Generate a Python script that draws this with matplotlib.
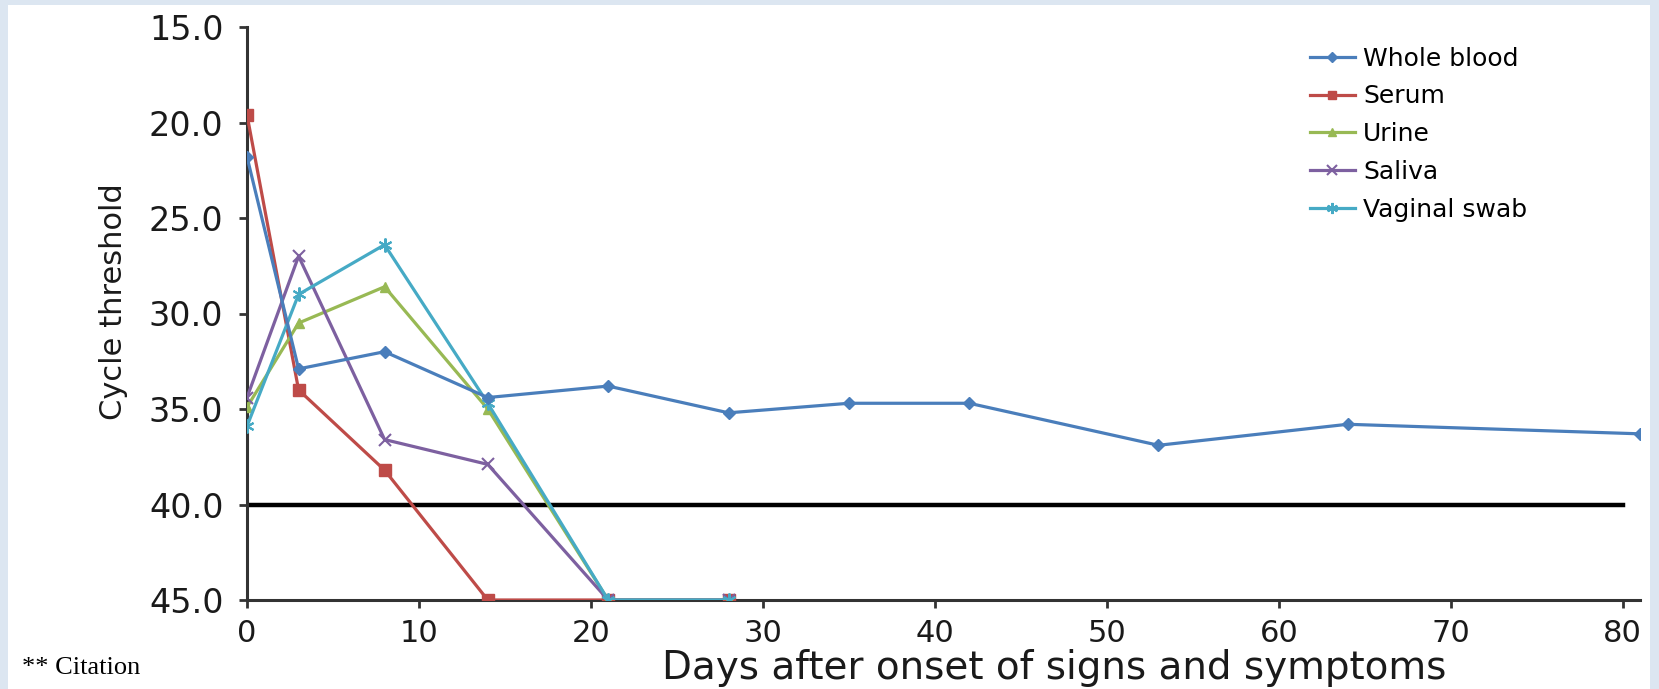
import matplotlib.pyplot as plt
from matplotlib.patches import Rectangle

# Data
days_blood = [0, 3, 8, 14, 21, 28, 35, 42, 53, 64, 81]
ct_blood = [21.8, 32.9, 32.0, 34.4, 33.8, 35.2, 34.7, 34.7, 36.9, 35.8, 36.3]

days_serum = [0, 3, 8, 14, 21, 28]
ct_serum = [19.6, 34.0, 38.2, 45.0, 45.0, 45.0]

days_urine = [0, 3, 8, 14, 21, 28]
ct_urine = [34.9, 30.5, 28.6, 35.0, 45.0, 45.0]

days_saliva = [0, 3, 8, 14, 21, 28]
ct_saliva = [34.4, 27.0, 36.6, 37.9, 45.0, 45.0]

days_vaginal = [0, 3, 8, 14, 21, 28]
ct_vaginal = [35.9, 29.0, 26.4, 34.7, 45.0, 45.0]

cutoff = 40.0
yticks = [15, 20, 25, 30, 35, 40, 45]
xticks = [0, 10, 20, 30, 40, 50, 60, 70, 80]

fig = plt.figure(figsize=(16.59, 6.89), dpi=100, facecolor='#dce6f1')
fig.patches.append(Rectangle((8 / 1659, 0), 1642 / 1659, 1 - 5 / 689,
                             transform=fig.transFigure, facecolor='white',
                             edgecolor='none', zorder=-5))

ax = fig.add_axes([247 / 1659, 1 - 600 / 689, (1640 - 247) / 1659, 573 / 689])
ax.set_facecolor('none')
ax.set_zorder(2)

lw = 2.3
ax.plot([0, 80], [cutoff, cutoff], color='black', lw=3.2, zorder=1)
ax.plot(days_blood, ct_blood, color='#4a7ebb', lw=lw, marker='D', ms=6, label='Whole blood', zorder=7)
ax.plot(days_serum, ct_serum, color='#be4b48', lw=lw, marker='s', ms=8, label='Serum', zorder=3)
ax.plot(days_urine, ct_urine, color='#98b954', lw=lw, marker='^', ms=7, label='Urine', zorder=4)
ax.plot(days_saliva, ct_saliva, color='#7d60a0', lw=lw, marker='x', ms=9, mew=1.5, label='Saliva', zorder=5)
ax.plot(days_vaginal, ct_vaginal, color='#46aac5', lw=lw, marker=(6, 2, 0), ms=10, mew=1.5, label='Vaginal swab', zorder=6)

ax.set_xlim(0, 81)
ax.set_ylim(45, 15)
ax.set_yticks(yticks)
ax.set_yticklabels([f'{v:.1f}' for v in yticks])
ax.set_xticks(xticks)
for s in ['top', 'right']:
    ax.spines[s].set_visible(False)
for s in ['left', 'bottom']:
    ax.spines[s].set_color('#333333')
    ax.spines[s].set_linewidth(2.2)
ax.tick_params(axis='both', direction='out', length=6, width=2, color='#333333',
               labelcolor='#1a1a1a')
ax.tick_params(axis='y', pad=11, labelsize=24)
ax.tick_params(axis='x', pad=8, labelsize=22)

fig.text(114 / 1659, 1 - 302 / 689, 'Cycle threshold', rotation=90,
         ha='center', va='center', fontsize=22, color='#1a1a1a',
         family=['Liberation Sans Narrow', 'DejaVu Sans'])
fig.text(1054 / 1659, 1 - 668 / 689, 'Days after onset of signs and symptoms',
         ha='center', va='center', fontsize=28, color='#1a1a1a')
fig.text(22 / 1659, 1 - 668 / 689, '** Citation', ha='left', va='center',
         fontsize=19, family='Liberation Serif', color='black')

ax.legend(loc='upper left', bbox_to_anchor=(1287 / 1659, 1 - 24 / 689),
          bbox_transform=fig.transFigure, frameon=False, fontsize=18,
          handlelength=1.8, labelspacing=0.55, handletextpad=0.35,
          markerscale=0.8)

fig.savefig('out.png', dpi=100, facecolor=fig.get_facecolor())
